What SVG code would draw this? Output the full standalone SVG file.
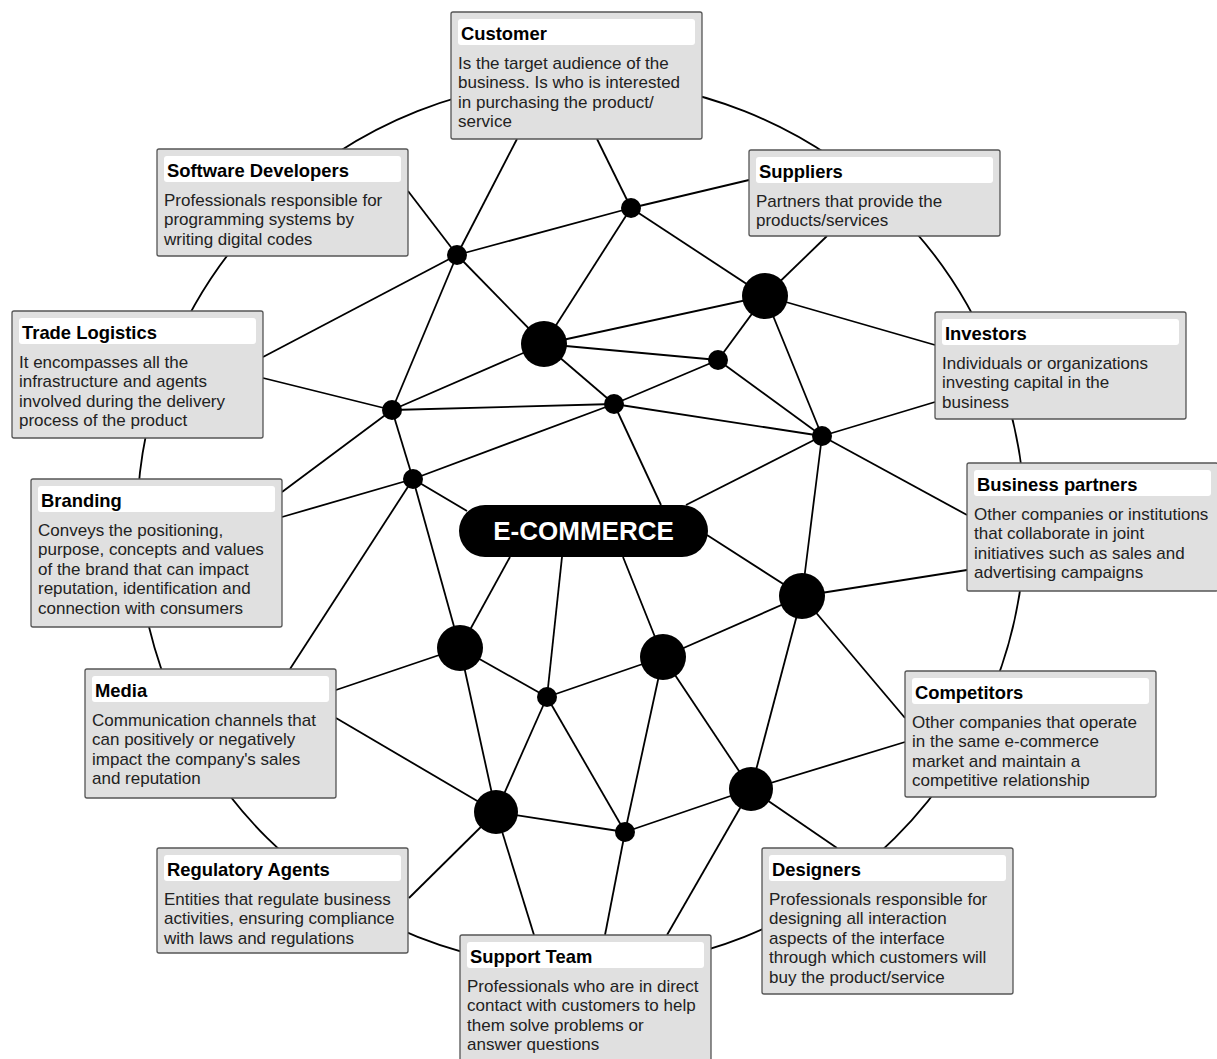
<svg xmlns="http://www.w3.org/2000/svg" width="1217" height="1059" viewBox="0 0 1217 1059">
<style>
.ring{fill:none;stroke:#000;stroke-width:1.8}
.e{stroke:#000;stroke-width:1.8;fill:none}
.box{fill:#e0e0e0;stroke:#555;stroke-width:1.3}
.bar{fill:#fff}
.t{font-family:"Liberation Sans",Arial,sans-serif;font-weight:bold;font-size:18.4px;fill:#000}
.d{font-family:"Liberation Sans",Arial,sans-serif;font-size:17px;fill:#222}
.n{fill:#000}
.hub{fill:#000}
.ht{font-family:"Liberation Sans",Arial,sans-serif;font-weight:bold;font-size:26px;fill:#fff}
</style>
<rect width="1217" height="1059" fill="#fff"/>
<circle class="ring" cx="581" cy="524" r="444"/>
<g id="connectors">
<line class="e" x1="517" y1="139" x2="457" y2="255"/>
<line class="e" x1="597" y1="139" x2="631" y2="208"/>
<line class="e" x1="408" y1="191" x2="457" y2="255"/>
<line class="e" x1="457" y1="255" x2="631" y2="208"/>
<line class="e" x1="631" y1="208" x2="749" y2="180"/>
<line class="e" x1="457" y1="255" x2="544" y2="344"/>
<line class="e" x1="457" y1="255" x2="263" y2="357"/>
<line class="e" x1="457" y1="255" x2="392" y2="410"/>
<line class="e" x1="631" y1="208" x2="544" y2="344"/>
<line class="e" x1="631" y1="208" x2="765" y2="296"/>
<line class="e" x1="827" y1="236" x2="765" y2="296"/>
<line class="e" x1="765" y1="296" x2="544" y2="344"/>
<line class="e" x1="765" y1="296" x2="718" y2="360"/>
<line class="e" x1="765" y1="296" x2="935" y2="345"/>
<line class="e" x1="765" y1="296" x2="822" y2="436"/>
<line class="e" x1="544" y1="344" x2="718" y2="360"/>
<line class="e" x1="718" y1="360" x2="614" y2="404"/>
<line class="e" x1="718" y1="360" x2="822" y2="436"/>
<line class="e" x1="544" y1="344" x2="614" y2="404"/>
<line class="e" x1="392" y1="410" x2="614" y2="404"/>
<line class="e" x1="614" y1="404" x2="822" y2="436"/>
<line class="e" x1="614" y1="404" x2="661" y2="505"/>
<line class="e" x1="413" y1="479" x2="614" y2="404"/>
<line class="e" x1="263" y1="378" x2="392" y2="410"/>
<line class="e" x1="392" y1="410" x2="544" y2="344"/>
<line class="e" x1="392" y1="410" x2="282" y2="492"/>
<line class="e" x1="392" y1="410" x2="413" y2="479"/>
<line class="e" x1="822" y1="436" x2="935" y2="402"/>
<line class="e" x1="822" y1="436" x2="967" y2="515"/>
<line class="e" x1="822" y1="436" x2="686" y2="505"/>
<line class="e" x1="822" y1="436" x2="802" y2="596"/>
<line class="e" x1="282" y1="517" x2="413" y2="479"/>
<line class="e" x1="413" y1="479" x2="467" y2="511"/>
<line class="e" x1="413" y1="479" x2="460" y2="648"/>
<line class="e" x1="413" y1="479" x2="290" y2="669"/>
<line class="e" x1="510" y1="557" x2="460" y2="648"/>
<line class="e" x1="460" y1="648" x2="336" y2="690"/>
<line class="e" x1="460" y1="648" x2="547" y2="697"/>
<line class="e" x1="460" y1="648" x2="496" y2="812"/>
<line class="e" x1="562" y1="557" x2="547" y2="697"/>
<line class="e" x1="547" y1="697" x2="663" y2="657"/>
<line class="e" x1="547" y1="697" x2="496" y2="812"/>
<line class="e" x1="547" y1="697" x2="625" y2="832"/>
<line class="e" x1="623" y1="557" x2="663" y2="657"/>
<line class="e" x1="663" y1="657" x2="802" y2="596"/>
<line class="e" x1="663" y1="657" x2="625" y2="832"/>
<line class="e" x1="663" y1="657" x2="751" y2="789"/>
<line class="e" x1="707" y1="535" x2="802" y2="596"/>
<line class="e" x1="802" y1="596" x2="967" y2="570"/>
<line class="e" x1="802" y1="596" x2="751" y2="789"/>
<line class="e" x1="802" y1="596" x2="905" y2="718"/>
<line class="e" x1="751" y1="789" x2="905" y2="742"/>
<line class="e" x1="751" y1="789" x2="837" y2="848"/>
<line class="e" x1="751" y1="789" x2="625" y2="832"/>
<line class="e" x1="751" y1="789" x2="667" y2="935"/>
<line class="e" x1="336" y1="718" x2="496" y2="812"/>
<line class="e" x1="496" y1="812" x2="409" y2="898"/>
<line class="e" x1="496" y1="812" x2="625" y2="832"/>
<line class="e" x1="496" y1="812" x2="534" y2="935"/>
<line class="e" x1="625" y1="832" x2="605" y2="935"/>
</g>
<g id="junctions">
<circle class="n" cx="544" cy="344" r="23"/>
<circle class="n" cx="765" cy="296" r="23"/>
<circle class="n" cx="802" cy="596" r="23"/>
<circle class="n" cx="460" cy="648" r="23"/>
<circle class="n" cx="663" cy="657" r="23"/>
<circle class="n" cx="496" cy="812" r="22"/>
<circle class="n" cx="751" cy="789" r="22"/>
<circle class="n" cx="457" cy="255" r="10"/>
<circle class="n" cx="631" cy="208" r="10"/>
<circle class="n" cx="718" cy="360" r="10"/>
<circle class="n" cx="392" cy="410" r="10"/>
<circle class="n" cx="614" cy="404" r="10"/>
<circle class="n" cx="822" cy="436" r="10"/>
<circle class="n" cx="413" cy="479" r="10"/>
<circle class="n" cx="547" cy="697" r="10"/>
<circle class="n" cx="625" cy="832" r="10"/>
</g>
<g id="ecommerce">
<rect class="hub" x="459" y="505" width="249" height="52" rx="26"/>
<text class="ht" x="583.5" y="540" text-anchor="middle">E-COMMERCE</text>
</g>
<g id="customer">
<rect class="box" x="451" y="12" width="251" height="127" rx="2"/>
<rect class="bar" x="458" y="19" width="237" height="26" rx="3"/>
<text class="t" x="461" y="39.5">Customer</text>
<text class="d"><tspan x="458" y="68.5">Is the target audience of the</tspan><tspan x="458" y="88">business. Is who is interested</tspan><tspan x="458" y="107.5">in purchasing the product/</tspan><tspan x="458" y="127">service</tspan></text>
</g>
<g id="software-developers">
<rect class="box" x="157" y="149" width="251" height="107" rx="2"/>
<rect class="bar" x="164" y="156" width="237" height="26" rx="3"/>
<text class="t" x="167" y="176.5">Software Developers</text>
<text class="d"><tspan x="164" y="205.5">Professionals responsible for</tspan><tspan x="164" y="225">programming systems by</tspan><tspan x="164" y="244.5">writing digital codes</tspan></text>
</g>
<g id="suppliers">
<rect class="box" x="749" y="150" width="251" height="86" rx="2"/>
<rect class="bar" x="756" y="157" width="237" height="26" rx="3"/>
<text class="t" x="759" y="177.5">Suppliers</text>
<text class="d"><tspan x="756" y="206.5">Partners that provide the</tspan><tspan x="756" y="226">products/services</tspan></text>
</g>
<g id="trade-logistics">
<rect class="box" x="12" y="311" width="251" height="127" rx="2"/>
<rect class="bar" x="19" y="318" width="237" height="26" rx="3"/>
<text class="t" x="22" y="338.5">Trade Logistics</text>
<text class="d"><tspan x="19" y="367.5">It encompasses all the</tspan><tspan x="19" y="387">infrastructure and agents</tspan><tspan x="19" y="406.5">involved during the delivery</tspan><tspan x="19" y="426">process of the product</tspan></text>
</g>
<g id="investors">
<rect class="box" x="935" y="312" width="251" height="107" rx="2"/>
<rect class="bar" x="942" y="319" width="237" height="26" rx="3"/>
<text class="t" x="945" y="339.5">Investors</text>
<text class="d"><tspan x="942" y="368.5">Individuals or organizations</tspan><tspan x="942" y="388">investing capital in the</tspan><tspan x="942" y="407.5">business</tspan></text>
</g>
<g id="branding">
<rect class="box" x="31" y="479" width="251" height="148" rx="2"/>
<rect class="bar" x="38" y="486" width="237" height="26" rx="3"/>
<text class="t" x="41" y="506.5">Branding</text>
<text class="d"><tspan x="38" y="535.5">Conveys the positioning,</tspan><tspan x="38" y="555">purpose, concepts and values</tspan><tspan x="38" y="574.5">of the brand that can impact</tspan><tspan x="38" y="594">reputation, identification and</tspan><tspan x="38" y="613.5">connection with consumers</tspan></text>
</g>
<g id="business-partners">
<rect class="box" x="967" y="463" width="251" height="128" rx="2"/>
<rect class="bar" x="974" y="470" width="237" height="26" rx="3"/>
<text class="t" x="977" y="490.5">Business partners</text>
<text class="d"><tspan x="974" y="519.5">Other companies or institutions</tspan><tspan x="974" y="539">that collaborate in joint</tspan><tspan x="974" y="558.5">initiatives such as sales and</tspan><tspan x="974" y="578">advertising campaigns</tspan></text>
</g>
<g id="media">
<rect class="box" x="85" y="669" width="251" height="129" rx="2"/>
<rect class="bar" x="92" y="676" width="237" height="26" rx="3"/>
<text class="t" x="95" y="696.5">Media</text>
<text class="d"><tspan x="92" y="725.5">Communication channels that</tspan><tspan x="92" y="745">can positively or negatively</tspan><tspan x="92" y="764.5">impact the company's sales</tspan><tspan x="92" y="784">and reputation</tspan></text>
</g>
<g id="competitors">
<rect class="box" x="905" y="671" width="251" height="126" rx="2"/>
<rect class="bar" x="912" y="678" width="237" height="26" rx="3"/>
<text class="t" x="915" y="698.5">Competitors</text>
<text class="d"><tspan x="912" y="727.5">Other companies that operate</tspan><tspan x="912" y="747">in the same e-commerce</tspan><tspan x="912" y="766.5">market and maintain a</tspan><tspan x="912" y="786">competitive relationship</tspan></text>
</g>
<g id="regulatory-agents">
<rect class="box" x="157" y="848" width="251" height="105" rx="2"/>
<rect class="bar" x="164" y="855" width="237" height="26" rx="3"/>
<text class="t" x="167" y="875.5">Regulatory Agents</text>
<text class="d"><tspan x="164" y="904.5">Entities that regulate business</tspan><tspan x="164" y="924">activities, ensuring compliance</tspan><tspan x="164" y="943.5">with laws and regulations</tspan></text>
</g>
<g id="designers">
<rect class="box" x="762" y="848" width="251" height="146" rx="2"/>
<rect class="bar" x="769" y="855" width="237" height="26" rx="3"/>
<text class="t" x="772" y="875.5">Designers</text>
<text class="d"><tspan x="769" y="904.5">Professionals responsible for</tspan><tspan x="769" y="924">designing all interaction</tspan><tspan x="769" y="943.5">aspects of the interface</tspan><tspan x="769" y="963">through which customers will</tspan><tspan x="769" y="982.5">buy the product/service</tspan></text>
</g>
<g id="support-team">
<rect class="box" x="460" y="935" width="251" height="130" rx="2"/>
<rect class="bar" x="467" y="942" width="237" height="26" rx="3"/>
<text class="t" x="470" y="962.5">Support Team</text>
<text class="d"><tspan x="467" y="991.5">Professionals who are in direct</tspan><tspan x="467" y="1011">contact with customers to help</tspan><tspan x="467" y="1030.5">them solve problems or</tspan><tspan x="467" y="1050">answer questions</tspan></text>
</g>
</svg>
